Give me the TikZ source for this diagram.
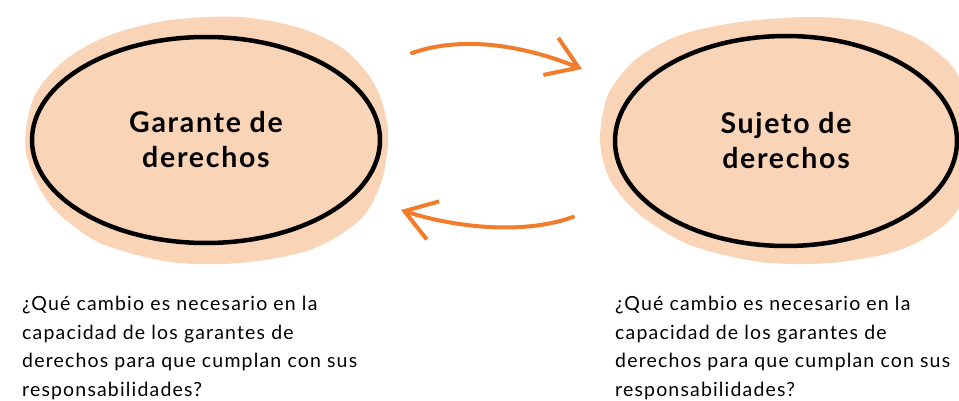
\documentclass[tikz,border=0pt]{standalone}
\usepackage{fontspec}
\setmainfont{Lato}
\usetikzlibrary{shapes.geometric,arrows.meta}
\definecolor{peach}{RGB}{250,212,182}
\definecolor{arrowor}{RGB}{240,124,44}
\tikzset{
  blob/.style={fill=peach, draw=none},
  ring/.style={ellipse, draw=black, line width=4.5pt, inner sep=0pt,
     font=\addfontfeatures{LetterSpace=6}\bfseries\fontsize{28.5}{35}\selectfont, align=center},
  flow/.style={draw=arrowor, line width=4pt, line cap=round,
     -{Straight Barb[length=30pt,width=40pt,line width=4pt]}},
  question/.style={anchor=base west, inner sep=0pt, align=left,
     font=\addfontfeatures{LetterSpace=6}\fontsize{19.5}{28.5}\selectfont}
}
\begin{document}
\begin{tikzpicture}[x=1pt,y=-1pt]
\useasboundingbox (0,0) rectangle (959,401);
\clip (0,0) rectangle (959,401);
\fill[white] (0,0) rectangle (959,401);
% peach blobs
\fill[blob] plot[smooth cycle] coordinates {(25,140) (35,95) (65,60) (110,35) (170,20) (240,17) (300,28) (345,50) (375,85) (388,130) (382,180) (360,220) (310,250) (240,263) (170,262) (100,243) (55,210) (33,175)};
\fill[blob] plot[smooth cycle] coordinates {(600,140) (608,95) (635,60) (680,35) (740,22) (810,17) (870,22) (920,40) (955,70) (968,110) (968,180) (950,220) (900,250) (830,263) (760,262) (690,245) (640,215) (610,180)};
% ellipses
\node[ring, minimum width=348pt, minimum height=206pt] (g) at (206,140) {Garante de\\derechos};
\node[ring, minimum width=342pt, minimum height=210pt] (s) at (786,141) {Sujeto de\\derechos};
% arrows
\coordinate (t1) at (412,53);
\coordinate (t2) at (582,69);
\coordinate (b1) at (573,217);
\coordinate (b2) at (401,210);
\draw[flow] (t1) .. controls (470,33) and (535,50) .. (t2);
\draw[flow] (b1) .. controls (520,236) and (450,226) .. (b2);
% questions (base anchor = baseline of the last line)
\node[question] (q1) at (22,396) {¿Qué cambio es necesario en la\\capacidad de los garantes de\\derechos para que cumplan con sus\\responsabilidades?};
\node[question] (q2) at (615,396) {¿Qué cambio es necesario en la\\capacidad de los garantes de\\derechos para que cumplan con sus\\responsabilidades?};
\end{tikzpicture}
\end{document}
